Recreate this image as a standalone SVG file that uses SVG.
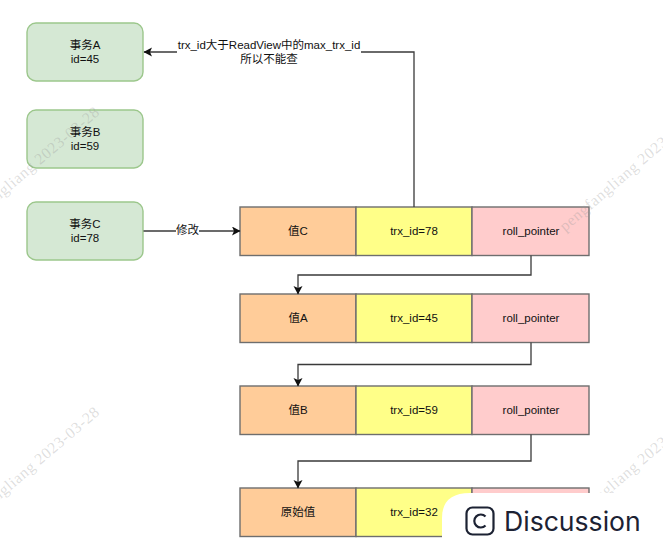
<svg xmlns="http://www.w3.org/2000/svg" width="663" height="548" viewBox="0 0 663 548">
<style>
text{font-family:"Liberation Sans","Noto Sans CJK SC",sans-serif;font-size:11.5px;fill:#111;text-anchor:middle}
.t rect{fill:#d5e8d4;stroke:#9cc78c;stroke-width:1.4}
.o{fill:#ffcc99}.y{fill:#ffff88}.p{fill:#ffcccc}
.c rect{stroke:#6e6e6e;stroke-width:1.4}
.l{fill:none;stroke:#3a3a3a;stroke-width:1.3}
text.w{font-family:"Liberation Serif",serif;font-size:15.8px;fill:#999;fill-opacity:.32;text-anchor:start;letter-spacing:.6px}
</style>
<defs><marker id="a" markerUnits="userSpaceOnUse" markerWidth="10" markerHeight="10" refX="8" refY="4.5" orient="auto"><path d="M0 0L8.5 4.500L0 9L2 4.500Z" fill="#111"/></marker></defs>
<g id="txA" class="t"><rect x="27" y="23" width="116" height="58" rx="9"/><text x="85" y="49">事务A</text><text x="85" y="63">id=45</text></g>
<g id="txB" class="t"><rect x="27" y="110" width="116" height="58" rx="9"/><text x="85" y="136">事务B</text><text x="85" y="150">id=59</text></g>
<g id="txC" class="t"><rect x="27" y="202" width="116" height="58" rx="9"/><text x="85" y="228">事务C</text><text x="85" y="242">id=78</text></g>
<g id="rowC" class="c"><rect class="o" x="240" y="207" width="116" height="48.500"/><rect class="y" x="356" y="207" width="116" height="48.500"/><rect class="p" x="472" y="207" width="117" height="48.500"/><text x="298" y="235">值C</text><text x="414" y="235">trx_id=78</text><text x="531" y="235">roll_pointer</text></g>
<g id="rowA" class="c"><rect class="o" x="240" y="294" width="116" height="48.500"/><rect class="y" x="356" y="294" width="116" height="48.500"/><rect class="p" x="472" y="294" width="117" height="48.500"/><text x="298" y="322">值A</text><text x="414" y="322">trx_id=45</text><text x="531" y="322">roll_pointer</text></g>
<g id="rowB" class="c"><rect class="o" x="240" y="386" width="116" height="48.500"/><rect class="y" x="356" y="386" width="116" height="48.500"/><rect class="p" x="472" y="386" width="117" height="48.500"/><text x="298" y="414">值B</text><text x="414" y="414">trx_id=59</text><text x="531" y="414">roll_pointer</text></g>
<g id="rowO" class="c"><rect class="o" x="240" y="488" width="116" height="48.500"/><rect class="y" x="356" y="488" width="116" height="48.500"/><rect class="p" x="472" y="488" width="117" height="48.500"/><text x="298" y="516">原始值</text><text x="414" y="516">trx_id=32</text></g>
<g id="connectors">
<path class="l" d="M414 207V52H361"/><path class="l" d="M177 52H144" marker-end="url(#a)"/>
<path class="l" d="M143.500 231H176"/><path class="l" d="M199 231H240" marker-end="url(#a)"/>
<path class="l" d="M531 255.500V275H298V294" marker-end="url(#a)"/>
<path class="l" d="M531 342.500V364.500H298V386" marker-end="url(#a)"/>
<path class="l" d="M531 434.500V461H298V488" marker-end="url(#a)"/>
<text x="269" y="49">trx_id大于ReadView中的max_trx_id</text><text x="269" y="63">所以不能查</text>
<text x="187.500" y="234">修改</text>
</g>
<g id="watermarks">
<text class="w" transform="translate(-38 232) rotate(-40.500)">pengfangliang 2023-03-28</text>
<text class="w" transform="translate(-38 532) rotate(-40.500)">pengfangliang 2023-03-28</text>
<text class="w" transform="translate(565 232) rotate(-40.500)">pengfangliang 2023-03-28</text>
<text class="w" transform="translate(565 532) rotate(-40.500)">pengfangliang 2023-03-28</text>
</g>
<g id="badge"><path d="M442 548V518Q442 493 470 493H663V548Z" fill="#fff"/>
<rect x="466.500" y="507.500" width="27" height="27" rx="6" fill="none" stroke="#1c2233" stroke-width="2.200"/>
<path d="M485.500 516.500A6.500 6.500 0 1 0 485.500 525.500" fill="none" stroke="#1c2233" stroke-width="2.200"/>
<text x="504" y="531" style="font-family:Inter,'Liberation Sans',sans-serif;font-size:26.600px;fill:#1c2233;text-anchor:start">Discussion</text></g>
</svg>
